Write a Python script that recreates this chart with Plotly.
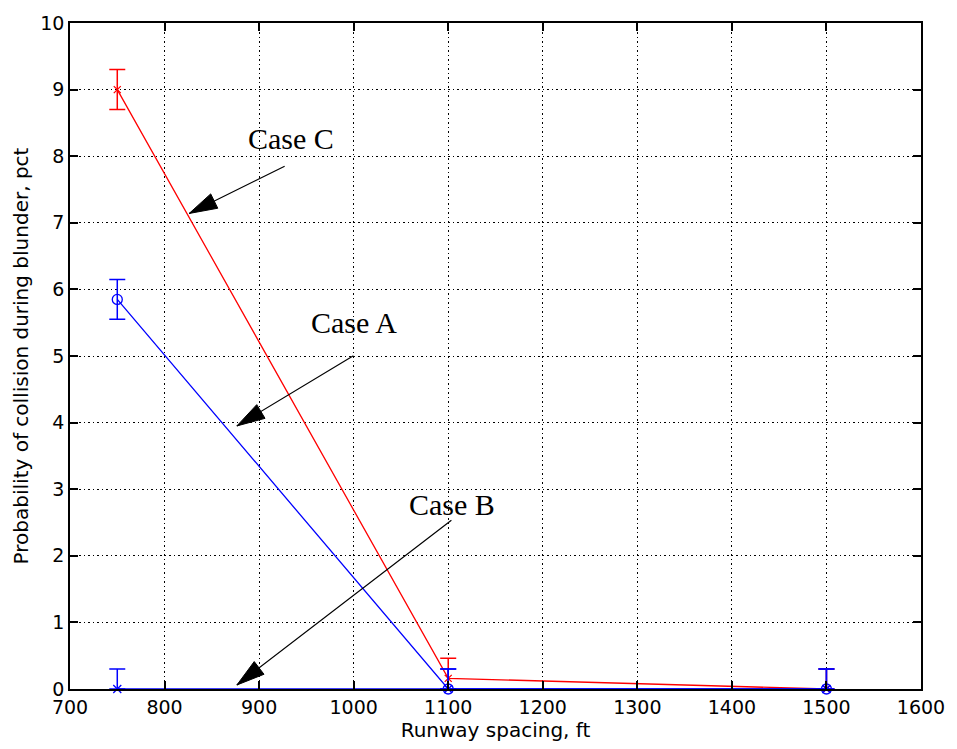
import math
import plotly.graph_objects as go

# Runway spacing (ft) and collision probability (pct) for each blunder case
spacing = [750, 1100, 1500]
case_a = [5.85, 0.0, 0.0]
case_b = [0.0, 0.0, 0.0]
case_c = [9.0, 0.16, 0.0]
err = [0.3, 0.3, 0.3]

x_ticks = [700, 800, 900, 1000, 1100, 1200, 1300, 1400, 1500, 1600]
y_ticks = [0, 1, 2, 3, 4, 5, 6, 7, 8, 9, 10]

RED = "#ff0000"
BLUE = "#0000ff"
TICK_FONT = dict(family="DejaVu Sans", size=19, color="black")
TITLE_FONT = dict(family="DejaVu Sans", size=20, color="black")


def lower_err(vals, e):
    # error bars stop at the zero axis
    return [min(ei, v) for v, ei in zip(vals, e)]


def series(y, color, symbol, msize):
    return go.Scatter(
        x=spacing, y=y, mode="lines+markers",
        line=dict(color=color, width=1.3),
        marker=dict(symbol=symbol, size=msize, color=color,
                    line=dict(color=color, width=1.3)),
        error_y=dict(type="data", symmetric=False, array=err,
                     arrayminus=lower_err(y, err), color=color,
                     thickness=1.5, width=8),
        cliponaxis=False, showlegend=False,
    )


fig = go.Figure()
fig.add_trace(series(case_c, RED, "x-thin-open", 7))
fig.add_trace(series(case_a, BLUE, "circle-open", 10))
fig.add_trace(series(case_b, BLUE, "x-thin-open", 8))

# Case labels with arrows (tip in data coords, tail offset in pixels)
labels = [
    ("Case C", 934, 8.27, 826, 7.14, 97, -48),
    ("Case A", 1000, 5.50, 876.5, 3.95, 118, -71),
    ("Case B", 1104, 2.77, 876.5, 0.06, 216, -166),
]
HEAD_L, HEAD_W = 28, 16
for text, tx, ty, px, py, ax, ay in labels:
    fig.add_annotation(x=tx, y=ty, text=text, showarrow=False,
                       font=dict(family="Liberation Serif", size=30, color="black"))
    fig.add_annotation(x=px, y=py, ax=ax, ay=ay, axref="pixel", ayref="pixel",
                       text="", showarrow=True, arrowhead=0, arrowwidth=1.2,
                       arrowcolor="black", standoff=0)
    # filled arrowhead, pixel-sized and anchored at the tip (y up)
    dx, dy = -ax, ay
    n = math.hypot(dx, dy)
    ux, uy = dx / n, dy / n
    bx, by = -HEAD_L * ux, -HEAD_L * uy
    nx, ny = -uy * HEAD_W / 2, ux * HEAD_W / 2
    path = (f"M0,0 L{bx + nx:.2f},{by + ny:.2f} "
            f"L{bx - nx:.2f},{by - ny:.2f} Z")
    fig.add_shape(type="path", path=path, xsizemode="pixel", ysizemode="pixel",
                  xanchor=px, yanchor=py, xref="x", yref="y",
                  fillcolor="black", line=dict(color="black", width=1))

axis_common = dict(
    showline=True, linecolor="black", linewidth=1.5, mirror="ticks",
    ticks="inside", ticklen=8, tickwidth=1.5, tickcolor="black",
    showgrid=True, gridcolor="black", gridwidth=1, griddash="2px,3px,1px,3px",
    zeroline=False, tickfont=TICK_FONT,
)

fig.update_xaxes(range=[700, 1600], tickvals=x_ticks,
                 title=dict(text="Runway spacing, ft", font=TITLE_FONT, standoff=4),
                 **axis_common)
fig.update_yaxes(range=[0, 10], tickvals=y_ticks,
                 title=dict(text="Probability of collision during blunder, pct",
                            font=TITLE_FONT, standoff=6),
                 **axis_common)

fig.update_layout(
    width=957, height=749,
    margin=dict(l=70, r=29, t=13, b=60),
    paper_bgcolor="white", plot_bgcolor="white",
)

fig.write_html("out.html")
